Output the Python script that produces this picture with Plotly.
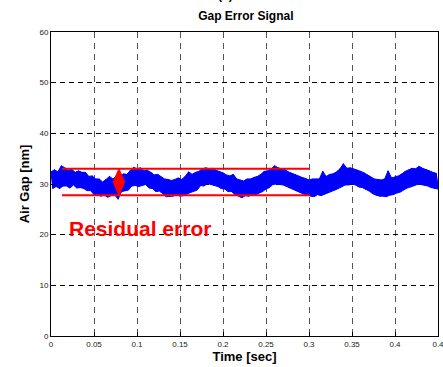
import plotly.graph_objects as go

# Air gap signal: alternating high/low samples (4 ms grid, lows offset by 2 ms)
gap_high = [32.4, 32.8, 32.4, 33.6, 33.2, 32.7, 32.9, 32.3, 32.6, 32.3,
            32.3, 31.5, 31.6, 31.0, 31.0, 30.4, 30.9, 31.5, 31.0, 31.6,
            31.3, 32.0, 31.9, 32.7, 33.3, 33.0, 33.2, 32.6, 32.7, 32.3,
            31.8, 31.9, 31.4, 31.0, 30.9, 30.7, 30.9, 31.2, 30.9, 31.5,
            32.4, 31.9, 32.3, 32.5, 33.0, 33.2, 33.0, 33.1, 32.7, 32.5,
            32.2, 31.8, 31.6, 31.9, 31.0, 30.8, 30.6, 31.0, 31.0, 31.3,
            31.5, 31.9, 32.5, 32.6, 33.0, 33.6, 33.2, 33.0, 32.9, 32.4,
            32.1, 31.9, 31.5, 31.3, 31.1, 30.8, 31.0, 31.0, 31.0, 32.5,
            31.5, 31.9, 32.0, 32.4, 33.0, 34.0, 33.1, 33.2, 33.0, 32.8,
            32.5, 32.2, 31.8, 31.3, 31.0, 30.9, 30.8, 31.0, 32.6, 31.2,
            31.4, 31.6, 32.0, 32.5, 32.8, 33.1, 33.0, 33.5, 33.1, 32.9,
            32.6, 32.3, 32.1]
gap_low = [29.1, 29.5, 29.1, 29.6, 29.6, 29.2, 29.8, 29.2, 29.3, 29.1,
           28.7, 28.7, 27.9, 28.0, 27.6, 27.8, 27.4, 27.7, 27.9, 27.0,
           28.5, 28.7, 28.8, 29.6, 29.7, 29.5, 29.7, 29.9, 29.2, 29.1,
           28.5, 28.6, 28.1, 27.5, 27.6, 27.6, 27.9, 27.6, 27.7, 28.0,
           28.3, 28.6, 28.8, 29.7, 29.6, 30.1, 29.8, 29.7, 29.5, 29.1,
           29.0, 28.5, 28.5, 27.9, 27.6, 27.3, 27.7, 27.6, 27.9, 27.8,
           28.2, 28.5, 29.0, 29.3, 29.9, 30.0, 29.9, 29.8, 29.6, 29.2,
           29.0, 28.6, 28.3, 28.0, 27.9, 27.6, 27.5, 27.9, 27.7, 28.0,
           28.3, 28.5, 28.8, 29.1, 29.4, 29.8, 29.8, 30.0, 29.8, 29.4,
           29.3, 28.9, 28.6, 28.1, 27.8, 27.6, 27.6, 27.5, 27.8, 27.9,
           28.2, 28.4, 28.8, 29.2, 29.4, 29.6, 29.9, 29.9, 29.8, 29.6,
           29.3, 29.1, 29.0]
sample_step = 0.004

# Residual error bounds
bound_t = [0.0128, 0.301]
bound_upper = 33.0
bound_lower = 27.8
# Double-arrow (diamond) marker
arrow_t = [0.079, 0.0858, 0.079, 0.0722, 0.079]
arrow_v = [33.0, 30.4, 27.8, 30.4, 33.0]
label_text = "Residual error"
label_pos = (0.104, 21.3)

x_ticks = [0, 0.05, 0.1, 0.15, 0.2, 0.25, 0.3, 0.35, 0.4, 0.44999]
x_tick_labels = ["0", "0.05", "0.1", "0.15", "0.2", "0.25", "0.3", "0.35", "0.4", "0.4"]
y_ticks = [0, 10, 20, 30, 40, 50, 60]

t_sig, v_sig = [], []
t_hi, t_lo = [], []
for k, (hi, lo) in enumerate(zip(gap_high, gap_low)):
    t_sig += [k * sample_step, k * sample_step + sample_step / 2]
    v_sig += [hi, lo]
    t_hi.append(k * sample_step)
    t_lo.append(k * sample_step + sample_step / 2)

fig = go.Figure()
# solid noise band between the upper and lower envelopes
fig.add_trace(go.Scatter(x=t_hi + t_lo[::-1], y=gap_high + gap_low[::-1], mode="lines",
                         fill="toself", fillcolor="#0000ff",
                         line=dict(color="#0000ff", width=1), hoverinfo="skip"))
fig.add_trace(go.Scatter(x=t_sig, y=v_sig, mode="lines",
                         line=dict(color="#0000ff", width=1), hoverinfo="skip"))
for v in (bound_upper, bound_lower):
    fig.add_trace(go.Scatter(x=bound_t, y=[v, v], mode="lines",
                             line=dict(color="#ff0000", width=2), hoverinfo="skip"))
fig.add_trace(go.Scatter(x=arrow_t, y=arrow_v, mode="lines", fill="toself",
                         fillcolor="#ff0000", line=dict(color="#ff0000", width=1)))

fig.add_annotation(x=label_pos[0], y=label_pos[1], text="<b>" + label_text + "</b>",
                   showarrow=False, font=dict(color="#ff0000", size=21, family="Liberation Sans"))
fig.add_annotation(xref="paper", yref="paper", x=0.45, y=1, yshift=28, yanchor="bottom",
                   text="<b>(a)</b>", showarrow=False,
                   font=dict(size=12, family="Liberation Sans", color="black"))

axis_common = dict(showline=True, linecolor="black", linewidth=1, mirror=True,
                   ticks="inside", ticklen=4, tickcolor="black", zeroline=False,
                   ticklabeloverflow="allow", automargin=False,
                   tickfont=dict(size=8, family="Liberation Sans", color="#222"))
fig.update_xaxes(range=[0, 0.45], tickvals=x_ticks, ticktext=x_tick_labels,
                 showgrid=True, gridcolor="#555", griddash="6px,5px", gridwidth=1,
                 title=dict(text="<b>Time [sec]</b>", standoff=4,
                            font=dict(size=13, family="Liberation Sans", color="black")),
                 **axis_common)
fig.update_yaxes(range=[0, 60], tickvals=y_ticks,
                 showgrid=True, gridcolor="black", griddash="5px,4px", gridwidth=1,
                 title=dict(text="<b>Air Gap [nm]</b>", standoff=6,
                            font=dict(size=13, family="Liberation Sans", color="black")),
                 **axis_common)

fig.update_layout(width=443, height=367, showlegend=False,
                  paper_bgcolor="white", plot_bgcolor="white",
                  margin=dict(l=51, r=5, t=32, b=31),
                  title=dict(text="<b>Gap Error Signal</b>", x=0.555, xanchor="center",
                             y=1 - 16 / 367, yanchor="middle",
                             font=dict(size=12, family="Liberation Sans", color="black")))

fig.write_html("out.html")
